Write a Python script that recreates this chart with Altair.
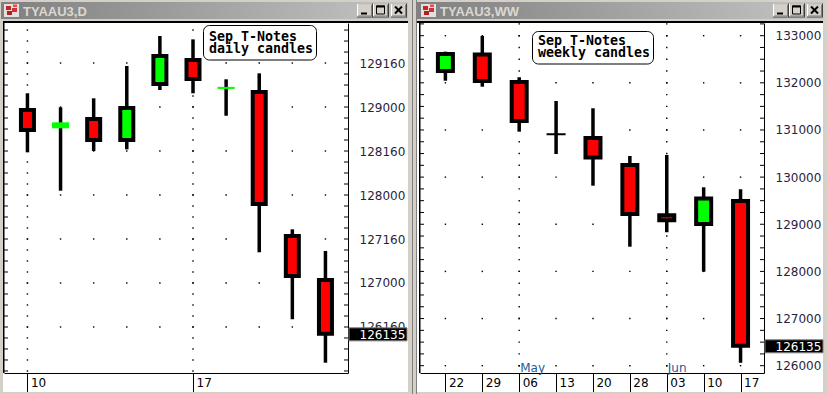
import json
import altair as alt
import numpy as np
import pandas as pd

# ---------------- data ----------------
# Daily candles, Sep T-Notes (June 10 .. June 21), prices in points (decimal)
day_labels = ["10", "11", "12", "13", "14", "17", "18", "19", "20", "21"]
day_open = [128.966, 128.758, 128.864, 128.625, 129.261, 129.534, 129.213, 129.170, 127.534, 127.034]
day_high = [129.156, 128.997, 129.099, 129.466, 129.807, 129.769, 129.315, 129.383, 127.610, 127.364]
day_low = [128.485, 128.049, 128.500, 128.519, 129.193, 129.156, 128.901, 127.349, 126.588, 126.094]
day_close = [128.739, 128.826, 128.625, 128.989, 129.580, 129.318, 129.222, 127.898, 127.080, 126.421875]
day_axis_values = [126.5, 127.0, 127.5, 128.0, 128.5, 129.0, 129.5]
day_week_starts = [0, 5]

# Weekly candles (Apr 22 .. Jun 17)
week_labels = ["22", "29", "06", "13", "20", "28", "03", "10", "17"]
week_open = [132.251, 132.601, 132.018, 130.908, 130.830, 130.257, 129.190, 129.005, 129.493]
week_high = [132.661, 132.994, 132.118, 131.615, 131.460, 130.448, 130.469, 129.784, 129.742]
week_low = [132.045, 131.918, 130.964, 130.490, 129.818, 128.524, 128.830, 127.994, 126.063]
week_close = [132.612, 132.039, 131.190, 130.908, 130.416, 129.218, 129.085, 129.546, 126.421875]
week_axis_values = [126, 127, 128, 129, 130, 131, 132, 133]
month_names = ["May", "Jun"]
month_starts = [2, 6]

daily_note = ["Sep T-Notes", "daily candles"]
weekly_note = ["Sep T-Notes", "weekly candles"]
daily_title = "TYAAU3,D"
weekly_title = "TYAAU3,WW"

# ---------------- style ----------------
FRAME = "#d4d0c8"
LABEL_COLOR = "#2a1f3d"
ONE = alt.Data(values=[{"k": 1}])
FMT = "floor({v}) + '' + pad('' + round(({v} - floor({v})) * 320), 3, '0', 'left')"
GRAD = alt.LinearGradient(
    gradient="linear",
    stops=[alt.GradientStop(color="#808080", offset=0), alt.GradientStop(color="#c4c4c4", offset=1)],
    x1=0, x2=1, y1=0, y2=0,
)


def panel(cfg):
    ox, oy, W, H = cfg["ox"], cfg["oy"], cfg["W"], cfg["H"]
    o, h, l, c = cfg["ohlc"]
    df = pd.DataFrame({"i": list(range(len(o))), "open": o, "high": h, "low": l, "close": c})
    df["dir"] = ["up" if cc > oo else ("down" if cc < oo else "flat") for oo, cc in zip(o, c)]
    df["tiny"] = [abs(cc - oo) < 0.08 for oo, cc in zip(o, c)]
    df["mid"] = [(oo + cc) / 2 for oo, cc in zip(o, c)]
    big = df[~df["tiny"]]
    tiny = df[df["tiny"]]

    xs = alt.Scale(domain=cfg["xdom"], nice=False, zero=False)
    ys = alt.Scale(domain=cfg["ydom"], nice=False, zero=False)
    xaxis = alt.Axis(
        orient="bottom", values=cfg["xticks"], labelExpr=json.dumps(cfg["labels"]) + "[datum.value]",
        title=None, grid=False, domainColor="black", domainWidth=1, tickColor="black", tickWidth=1,
        tickSize=19, labelAlign="left", labelBaseline="middle", labelPadding=-10, labelOffset=3,
        labelFont="DejaVu Sans", labelFontSize=12, labelColor="black", labelFlush=False,
        labelOverlap=False, zindex=0,
    )
    yaxis = alt.Axis(
        orient="right", values=cfg["axis_vals"], labelExpr=FMT.format(v="datum.value"),
        title=None, grid=False, ticks=False, domainColor="black", domainWidth=1,
        labelPadding=11, labelAlign="left", labelBaseline="middle", labelFont="DejaVu Sans",
        labelFontSize=12, labelColor=LABEL_COLOR, labelFlush=False, labelOverlap=False, zindex=0,
    )
    color = alt.Color("dir:N", scale=alt.Scale(domain=["up", "down", "flat"], range=["#00ff00", "#ff0000", "#000000"]), legend=None)

    def X(f):
        return alt.X(f, type="quantitative", scale=xs, axis=xaxis)

    def Y(f):
        return alt.Y(f, type="quantitative", scale=ys, axis=yaxis)

    def rect(x, y, x2, y2, **kw):
        return alt.Chart(ONE).mark_rect(**kw).encode(
            x=alt.value(x - ox), x2=alt.value(x2 - ox), y=alt.value(y - oy), y2=alt.value(y2 - oy))

    def rule(x, y, x2, y2, **kw):
        return alt.Chart(ONE).mark_rule(**kw).encode(
            x=alt.value(x - ox), x2=alt.value(x2 - ox), y=alt.value(y - oy), y2=alt.value(y2 - oy))

    def text(x, y, t, **kw):
        return alt.Chart(ONE).mark_text(**kw).encode(x=alt.value(x - ox), y=alt.value(y - oy), text=alt.value(t))

    layers = []
    wx0, wx1 = cfg["frame"]
    cx0, cx1 = cfg["client"]
    # window frame
    layers += [
        rect(wx0, 0, wx1, 22, color=FRAME),
        rect(wx0, 0, cx0, 394, color=FRAME),
        rect(cx1, 0, wx1, 394, color=FRAME),
        rect(wx0, 392, wx1, 394, color=FRAME),
    ]
    for sx in cfg.get("dark_lines", []):
        layers.append(rect(sx, 0, sx + 1, 394, color="#808080"))
    tb0, tb1 = cfg["titlebar"]
    layers.append(rect(tb0, 2, tb1, 19, color=GRAD))
    # icon
    ix = cfg["icon"]
    layers += [
        rect(ix, 4, ix + 15, 17, color="#e4dede"),
        rect(ix + 2, 6, ix + 7, 10, color="#c02828"),
        rect(ix + 8, 8, ix + 13, 12, color="#d03030"),
        rect(ix + 3, 11, ix + 8, 15, color="#b02020"),
        rect(ix + 9, 4.5, ix + 13, 7, color="#e05050"),
    ]
    layers.append(text(ix + 19, 15.5, cfg["title"], align="left", baseline="alphabetic",
                       font="Liberation Sans", fontWeight="bold", fontSize=13, color="#dcd8d0"))
    # buttons
    bxs = cfg["buttons"]
    by, bw, bh = 3.5, 16, 14
    for kind, bx in zip(["min", "max", "close"], bxs):
        layers += [
            rect(bx, by, bx + bw, by + bh, color="#404040"),
            rect(bx, by, bx + bw - 1, by + bh - 1, color="#ffffff"),
            rect(bx + 1, by + 1, bx + bw - 1, by + bh - 1, color="#808080"),
            rect(bx + 1, by + 1, bx + bw - 2, by + bh - 2, color=FRAME),
        ]
        if kind == "min":
            layers.append(rect(bx + 4, by + 9, bx + 10, by + 11, color="black"))
        elif kind == "max":
            layers.append(rect(bx + 3.5, by + 2.5, bx + 11.5, by + 10.5, fillOpacity=0, stroke="black", strokeWidth=1))
            layers.append(rect(bx + 3, by + 2, bx + 12, by + 4, color="black"))
        else:
            layers.append(rule(bx + 4, by + 3, bx + 11, by + 10, color="black", strokeWidth=2))
            layers.append(rule(bx + 11, by + 3, bx + 4, by + 10, color="black", strokeWidth=2))
    # client borders (top & left)
    layers.append(rect(cx0, 21, cx1, 23, color="black"))
    layers.append(rect(ox - 1, 21, ox + 0.5, 373, color="black"))

    # grid dots
    lo, hi = cfg["ydom"]
    minor = [float(v) for v in np.arange(np.ceil(lo / cfg["minor"]) * cfg["minor"], hi, cfg["minor"])]
    dots = [{"i": i, "v": v} for i in range(len(o)) for v in cfg["axis_vals"]]
    dots += [{"i": i, "v": v} for i in cfg["vgrid"] for v in minor]
    layers.append(alt.Chart(pd.DataFrame(dots)).mark_square(size=2, color="black", opacity=1).encode(x=X("i"), y=Y("v")))
    # edge ticks
    mdf = pd.DataFrame({"v": minor})
    layers.append(alt.Chart(mdf).mark_rule(color="black", strokeWidth=1).encode(y=Y("v"), x=alt.value(0), x2=alt.value(4)))
    layers.append(alt.Chart(mdf).mark_rule(color="black", strokeWidth=1).encode(y=Y("v"), x=alt.value(W - 4), x2=alt.value(W)))

    # candles
    layers.append(alt.Chart(df).mark_rule(color="black", strokeWidth=3.5).encode(x=X("i"), y=Y("low"), y2="high:Q"))
    layers.append(alt.Chart(big).mark_bar(size=cfg["body_w"], stroke="black", strokeWidth=4).encode(
        x=X("i"), y=Y("open"), y2="close:Q", color=color))
    if len(tiny):
        layers.append(alt.Chart(tiny).mark_bar(size=cfg["tiny_w"]).encode(x=X("i"), y=Y("open"), y2="close:Q", color=color))
        layers.append(alt.Chart(tiny).mark_tick(orient="horizontal", size=cfg["tiny_w"], thickness=2, opacity=1).encode(
            x=X("i"), y=Y("mid"), color=color))

    # note box
    nx0, ny0, nx1, ny1 = cfg["note_box"]
    layers.append(rect(nx0, ny0, nx1, ny1, fill="white", stroke="black", strokeWidth=1, cornerRadius=6))
    tx, ty = cfg["note_xy"]
    layers.append(text(tx, ty, cfg["note"], align="left", baseline="alphabetic", font="DejaVu Sans Mono",
                       fontWeight="bold", fontSize=13.3, lineHeight=12, color="black"))

    # month markers
    if cfg.get("months"):
        names, idx = cfg["months"]
        mdf2 = pd.DataFrame({"i": idx, "name": names})
        layers.append(alt.Chart(mdf2).mark_text(align="left", baseline="alphabetic", dx=1, font="DejaVu Sans",
                                                fontSize=12, color="#1f5c99").encode(
            x=X("i"), y=alt.value(H - 1.5), text="name:N"))

    # last price box
    pdf = pd.DataFrame({"p": [c[-1]]})
    layers.append(alt.Chart(pdf).mark_rect(color="black", stroke="#808080", strokeWidth=1, yOffset=-6, y2Offset=7).encode(
        y=Y("p"), y2="p:Q", x=alt.value(W + 1), x2=alt.value(W + 59)))
    layers.append(alt.Chart(pdf).transform_calculate(lbl=FMT.format(v="datum.p")).mark_text(
        align="left", baseline="middle", dy=1, font="DejaVu Sans", fontSize=12, color="white").encode(
        y=Y("p"), x=alt.value(W + 11.5), text="lbl:N"))

    return alt.layer(*layers).properties(width=W, height=H)


cfg_daily = dict(
    ox=4, oy=23, W=344, H=350, ohlc=(day_open, day_high, day_low, day_close),
    xdom=[-0.557, 9.53], ydom=[125.977, 129.955], xticks=day_week_starts, labels=day_labels,
    axis_vals=day_axis_values, minor=0.125, vgrid=day_week_starts,
    frame=(0, 412), client=(3, 408), titlebar=(1, 408), icon=4, buttons=(357, 373, 391),
    title=daily_title, body_w=13, tiny_w=17, note=daily_note,
    note_box=(203.5, 25.5, 316.5, 60), note_xy=(209, 40.5),
)
cfg_weekly = dict(
    ox=420, oy=23, W=344, H=350, ohlc=(week_open, week_high, week_low, week_close),
    xdom=[-0.553, 8.5], ydom=[125.845, 133.269], xticks=list(range(len(week_labels))), labels=week_labels,
    axis_vals=week_axis_values, minor=0.25, vgrid=month_starts,
    frame=(412, 827), client=(417, 823), dark_lines=[412, 416], titlebar=(416, 823), icon=421,
    buttons=(773, 789, 807), title=weekly_title, body_w=15, tiny_w=19, note=weekly_note,
    note_box=(532.5, 31.5, 653.5, 64), note_xy=(538, 45.3), months=(month_names, month_starts),
)

chart = alt.hconcat(panel(cfg_daily), panel(cfg_weekly), spacing=0).properties(
    padding=0, background="white"
).configure_view(strokeWidth=0)

chart.save("out.html", embed_options={"renderer": "svg", "actions": False})
